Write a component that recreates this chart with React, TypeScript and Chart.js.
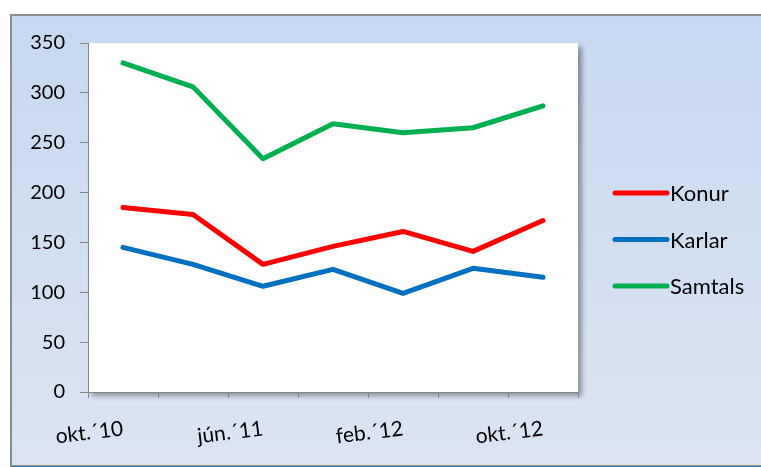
import React, { useEffect, useRef } from "react";
import { Chart, registerables } from "chart.js";

Chart.register(...registerables);

const xTickLabels = ["okt.´10", "jún.´11", "feb.´12", "okt.´12"];
const seriesNames = ["Konur", "Karlar", "Samtals"];
const konur = [185, 178, 128, 146, 161, 141, 172];
const karlar = [145, 128, 106, 123, 99, 124, 115];
const samtals = [330, 306, 234, 269, 260, 265, 287];
const seriesColors = ["#FF0000", "#0070C0", "#00B050"];

const FONT = "Lato, 'Open Sans', sans-serif";

const plotBg = {
  id: "plotBg",
  beforeDraw(chart: any) {
    const { ctx, chartArea: a } = chart;
    ctx.save();
    ctx.shadowColor = "rgba(0,0,0,0.35)";
    ctx.shadowBlur = 5;
    ctx.shadowOffsetX = 4;
    ctx.shadowOffsetY = 4;
    ctx.fillStyle = "#FFFFFF";
    ctx.fillRect(a.left, a.top, a.right - a.left, a.bottom - a.top);
    ctx.restore();
  },
};

const sideLegend = {
  id: "sideLegend",
  afterDraw(chart: any) {
    const { ctx, chartArea, height } = chart;
    const ds = chart.data.datasets;
    const gap = 46.5;
    const x0 = chartArea.right + 37;
    const y0 = height / 2 - ((ds.length - 1) * gap) / 2;
    ctx.save();
    ds.forEach((d: any, i: number) => {
      const y = y0 + i * gap;
      ctx.strokeStyle = d.borderColor;
      ctx.lineWidth = 5;
      ctx.lineCap = "round";
      ctx.beginPath();
      ctx.moveTo(x0, y);
      ctx.lineTo(x0 + 52, y);
      ctx.stroke();
      ctx.fillStyle = "#000";
      ctx.font = `22px ${FONT}`;
      ctx.textBaseline = "middle";
      ctx.textAlign = "left";
      ctx.fillText(d.label, x0 + 55, y + 1);
    });
    ctx.restore();
  },
};

export default function App() {
  const ref = useRef<HTMLCanvasElement | null>(null);

  useEffect(() => {
    if (!ref.current) return;
    const all = [konur, karlar, samtals];
    const chart = new Chart(ref.current, {
      type: "line",
      data: {
        datasets: all.map((vals, k) => ({
          label: seriesNames[k],
          data: vals.map((v, i) => ({ x: i + 0.5, y: v })),
          borderColor: seriesColors[k],
          backgroundColor: seriesColors[k],
          borderWidth: 5,
          pointRadius: 0,
          tension: 0,
          borderCapStyle: "round",
          borderJoinStyle: "round",
        })),
      },
      options: {
        responsive: false,
        animation: false,
        layout: { padding: { top: 27, right: 183, left: 0, bottom: 0 } },
        plugins: {
          legend: { display: false },
          tooltip: { enabled: false },
        },
        scales: {
          x: {
            type: "linear",
            min: 0,
            max: xTickLabels.length * 2 - 1,
            afterFit: (s: any) => {
              s.height = 71;
              s.paddingLeft = 0;
              s.paddingRight = 0;
            },
            border: { color: "#868686", width: 1 },
            grid: {
              drawOnChartArea: false,
              drawTicks: true,
              tickLength: 6,
              color: "#868686",
            },
            ticks: {
              stepSize: 1,
              autoSkip: false,
              minRotation: 7,
              maxRotation: 7,
              labelOffset: 35,
              padding: 18,
              color: "#000",
              font: { family: FONT, size: 21 },
              callback: (v: any) =>
                Number(v) % 2 === 0 ? xTickLabels[Number(v) / 2] ?? "" : "",
            },
          },
          y: {
            min: 0,
            max: 350,
            afterFit: (s: any) => {
              s.width = 76;
            },
            border: { color: "#868686", width: 1 },
            grid: {
              drawOnChartArea: false,
              drawTicks: true,
              tickLength: 8,
              color: "#868686",
            },
            ticks: {
              stepSize: 50,
              padding: 15,
              color: "#000",
              font: { family: FONT, size: 20 },
            },
          },
        },
      },
      plugins: [plotBg, sideLegend],
    });
    return () => chart.destroy();
  }, []);

  return (
    <div
      style={{
        position: "fixed",
        left: 0,
        top: 0,
        width: 761,
        height: 467,
        overflow: "hidden",
        background: "#FFFFFF",
      }}
    >
      <div
        style={{
          position: "absolute",
          left: 10,
          top: 14,
          width: 760,
          height: 449,
          borderTop: "2px solid #8C8C8C",
          borderLeft: "2px solid #8C8C8C",
          borderBottom: "1px solid #8C8C8C",
          boxShadow: "0 2px 0 #4A7EBB",
          background: "linear-gradient(to bottom, #C6D9F0, #DCE4F2)",
        }}
      >
        <canvas
          ref={ref}
          width={749}
          height={447}
          style={{ display: "block", width: 749, height: 447 }}
        />
      </div>
    </div>
  );
}
